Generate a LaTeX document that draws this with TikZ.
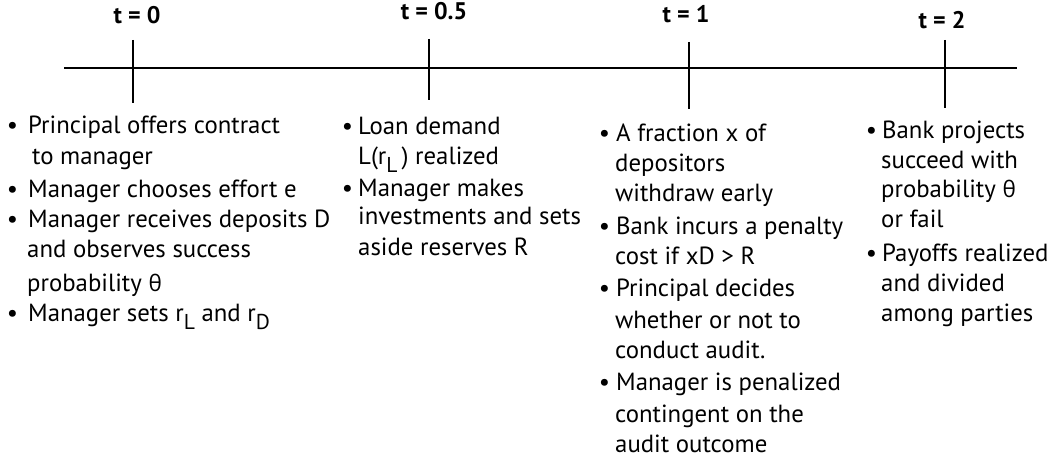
\documentclass[tikz,border=0pt]{standalone}
\usepackage{fontspec}
\setmainfont{PT Sans}
\newfontfamily\gkfont{Open Sans}
\newcommand\bul[1]{\llap{\textbullet\hspace{#1}}}
\newcommand\lsub[1]{\raisebox{-8pt}{\fontsize{21.5}{21.5}\selectfont #1}}
\newcommand\thet{{\gkfont\fontsize{22.5}{26}\selectfont θ}}
\newcommand\txtline[4]{\node[txt] (#1) at (#2,#3) {#4};}
\tikzset{
  txt/.style={anchor=base west, inner sep=0pt, font=\fontsize{24.8}{28}\selectfont},
  tlabel/.style={anchor=center, inner sep=0pt, font=\fontsize{24}{27}\selectfont\bfseries},
  axis/.style={line width=1.5pt, black},
  tick/.style={line width=1.5pt, black}
}
\begin{document}
\begin{tikzpicture}[x=1pt,y=-1pt]
\useasboundingbox (0,0) rectangle (1061,465);
% timeline
\coordinate (L) at (64,68);
\coordinate (R) at (1017,68);
\draw[axis] (L) -- (R);
\coordinate (t0a) at (133,40);  \coordinate (t0b) at (133,103);
\coordinate (t5a) at (429,39);  \coordinate (t5b) at (429,100);
\coordinate (t1a) at (689,42);  \coordinate (t1b) at (689,109);
\coordinate (t2a) at (945,40);  \coordinate (t2b) at (945,108);
\draw[tick] (t0a) -- (t0b);
\draw[tick] (t5a) -- (t5b);
\draw[tick] (t1a) -- (t1b);
\draw[tick] (t2a) -- (t2b);
\node[tlabel] (lab0) at (137,15) {t = 0};
\node[tlabel] (lab5) at (434,11) {t = 0.5};
\node[tlabel] (lab1) at (686,14) {t = 1};
\node[tlabel] (lab2) at (942,20) {t = 2};
% block t=0
\txtline{a1}{28}{134}{\bul{10pt}Principal offers contract}
\txtline{a2}{32}{165}{to manager}
\txtline{a3}{28}{198}{\bul{10pt}Manager chooses effort e}
\txtline{a4}{28}{228}{\bul{10pt}Manager receives deposits D}
\txtline{a5}{27}{258}{and observes success}
\txtline{a6}{27}{291}{probability \thet}
\txtline{a7}{28}{322}{\bul{10pt}Manager sets r\lsub{L} and r\lsub{D}}
% block t=0.5
\txtline{b1}{358}{135}{\bul{5pt}Loan demand}
\txtline{b2}{358}{165}{L(r\lsub{L}\,) realized}
\txtline{b3}{358}{197}{\bul{5pt}Manager makes}
\txtline{b4}{358}{225}{investments and sets}
\txtline{b5}{358}{256}{aside reserves R}
% block t=1
\txtline{c1}{616}{142}{\bul{6pt}A fraction x of}
\txtline{c2}{615}{172}{depositors}
\txtline{c3}{615}{202}{withdraw early}
\txtline{c4}{616}{235}{\bul{6pt}Bank incurs a penalty}
\txtline{c5}{615}{265}{cost if xD > R}
\txtline{c6}{616}{297}{\bul{6pt}Principal decides}
\txtline{c7}{615}{328}{whether or not to}
\txtline{c8}{615}{358}{conduct audit.}
\txtline{c9}{616}{390}{\bul{6pt}Manager is penalized}
\txtline{c10}{615}{422}{contingent on the}
\txtline{c11}{615}{452}{audit outcome}
% block t=2
\txtline{d1}{882}{139}{\bul{5pt}Bank projects}
\txtline{d2}{881}{169}{succeed with}
\txtline{d3}{881}{198}{probability \thet}
\txtline{d4}{881}{228}{or fail}
\txtline{d5}{882}{262}{\bul{5pt}Payoffs realized}
\txtline{d6}{881}{292}{and divided}
\txtline{d7}{881}{322}{among parties}
\end{tikzpicture}
\end{document}
